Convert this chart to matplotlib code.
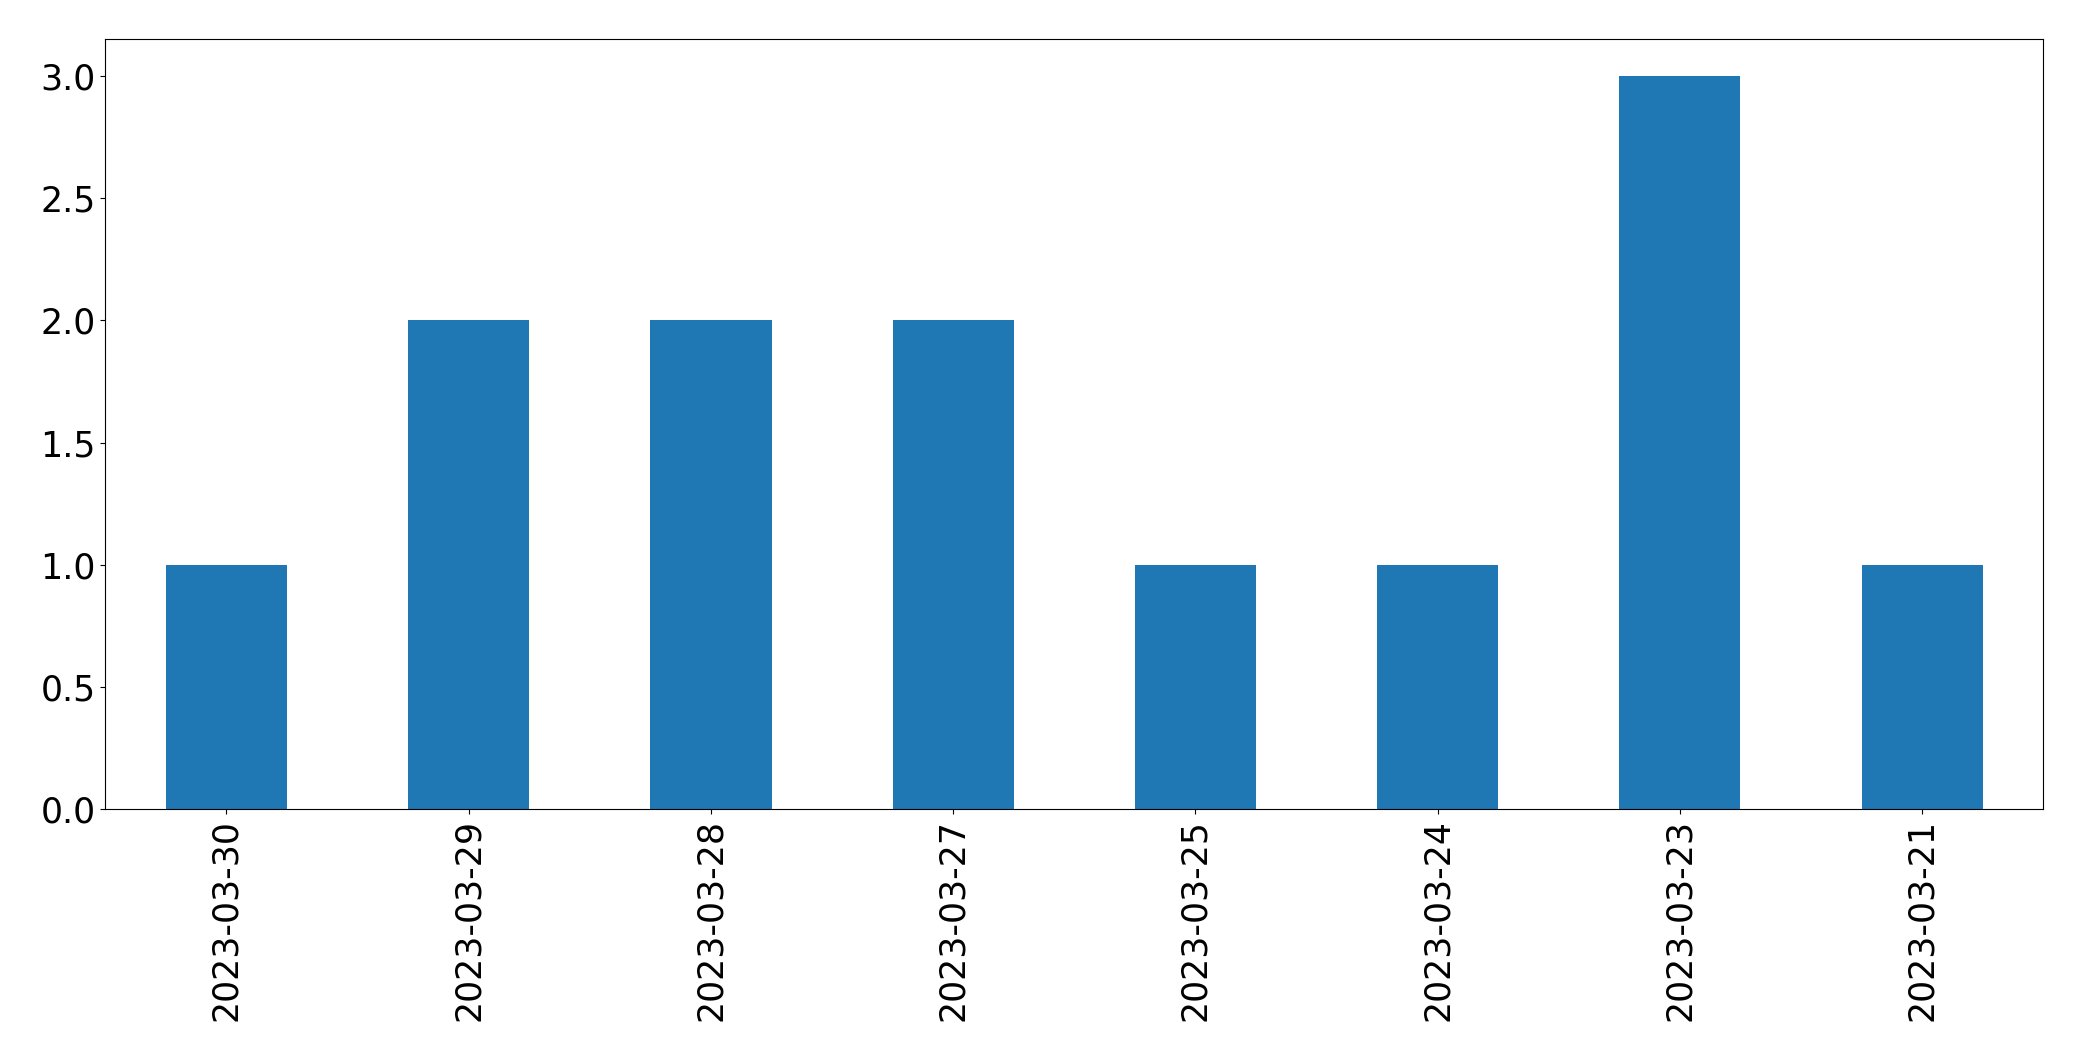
import matplotlib
matplotlib.use("Agg")
import matplotlib.pyplot as plt

# dates in the order shown (descending)
dates = ['2023-03-30', '2023-03-29', '2023-03-28', '2023-03-27',
         '2023-03-25', '2023-03-24', '2023-03-23', '2023-03-21']
counts = [1, 2, 2, 2, 1, 1, 3, 1]

plt.rcParams['font.size'] = 25

fig = plt.figure(figsize=(20.82, 10.61), dpi=100)
ax = fig.add_axes([0.0506, 0.2372, 0.9308, 0.7258])

x = range(len(dates))
ax.bar(x, counts, width=0.5, color='#1f77b4')
ax.set_xlim(-0.5, len(dates) - 0.5)
ax.set_xticks(list(x))
ax.set_xticklabels(dates, rotation=90)
ax.set_yticks([0.0, 0.5, 1.0, 1.5, 2.0, 2.5, 3.0])
ax.set_ylim(0, 3.15)

fig.savefig('out.png', dpi=100)
